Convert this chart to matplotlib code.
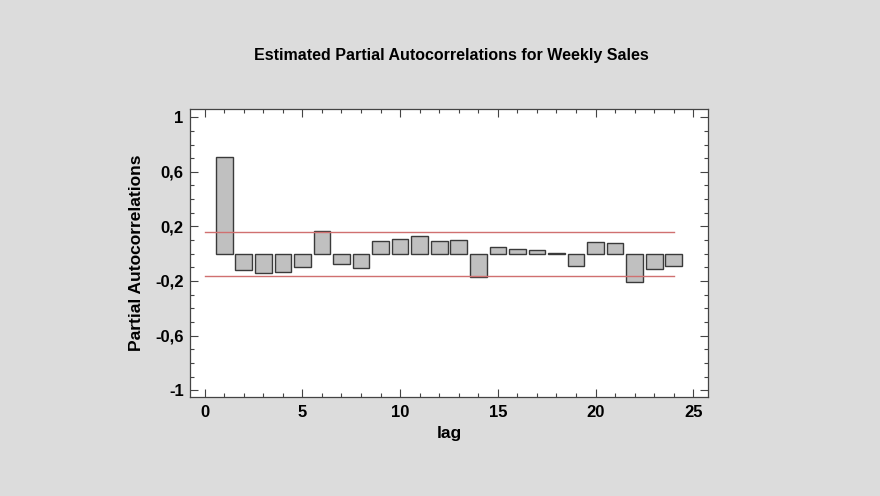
import numpy as np
import matplotlib
matplotlib.use('Agg')
import matplotlib.pyplot as plt
from matplotlib.ticker import MultipleLocator, FuncFormatter

# ----- data -----
lags = list(range(1, 25))
pacf = [0.71, -0.116, -0.138, -0.133, -0.096, 0.163, -0.072, -0.104,
        0.091, 0.104, 0.133, 0.094, 0.097, -0.17, 0.051, 0.034,
        0.029, 0.004, -0.092, 0.088, 0.080, -0.204, -0.109, -0.092]
limit = 0.16
limit_span = [0, 24]

plt.rcParams['font.family'] = ['Liberation Sans', 'DejaVu Sans']
plt.rcParams['font.weight'] = 'bold'

fig = plt.figure(figsize=(8.8, 4.96), dpi=100)
fig.patch.set_facecolor('#dcdcdc')
ax = fig.add_axes([0.2159, 0.1996, 0.5886, 0.5806])
ax.set_facecolor('white')

ax.bar(lags, pacf, width=0.85, color='#c0c0c0', edgecolor='#3a3a3a', linewidth=1.0, zorder=2)
ax.plot(limit_span, [limit, limit], color='#d07070', lw=1.0, zorder=3)
ax.plot(limit_span, [-limit, -limit], color='#d07070', lw=1.0, zorder=3)

ax.set_xlim(-0.75, 25.75)
ax.set_ylim(-1.05, 1.06)
ax.xaxis.set_major_locator(MultipleLocator(5))
ax.xaxis.set_minor_locator(MultipleLocator(1))
ax.set_yticks([-1, -0.6, -0.2, 0.2, 0.6, 1])
ax.yaxis.set_minor_locator(MultipleLocator(0.1))

def comma(v, pos):
    s = ('%.1f' % v).rstrip('0').rstrip('.')
    return s.replace('.', ',')
ax.yaxis.set_major_formatter(FuncFormatter(comma))

ax.tick_params(which='both', direction='in', top=True, right=True, color='#444444')
ax.tick_params(which='major', length=6, width=0.8)
ax.tick_params(which='minor', length=3, width=0.8)
ax.tick_params(axis='y', which='major', labelsize=12, pad=4.5)
ax.tick_params(axis='x', which='major', labelsize=12, pad=6)
for sp in ax.spines.values():
    sp.set_color('#444444')
    sp.set_linewidth(0.9)

ax.set_xlabel('lag', fontsize=12.5, fontweight='bold', labelpad=4)
ax.set_ylabel('Partial Autocorrelations', fontsize=12.5, fontweight='bold', labelpad=8)
fig.text(0.5125, 0.889, 'Estimated Partial Autocorrelations for Weekly Sales',
         ha='center', va='center', fontsize=11.5, fontweight='bold')

fig.savefig('out.png', dpi=100, facecolor=fig.get_facecolor())
